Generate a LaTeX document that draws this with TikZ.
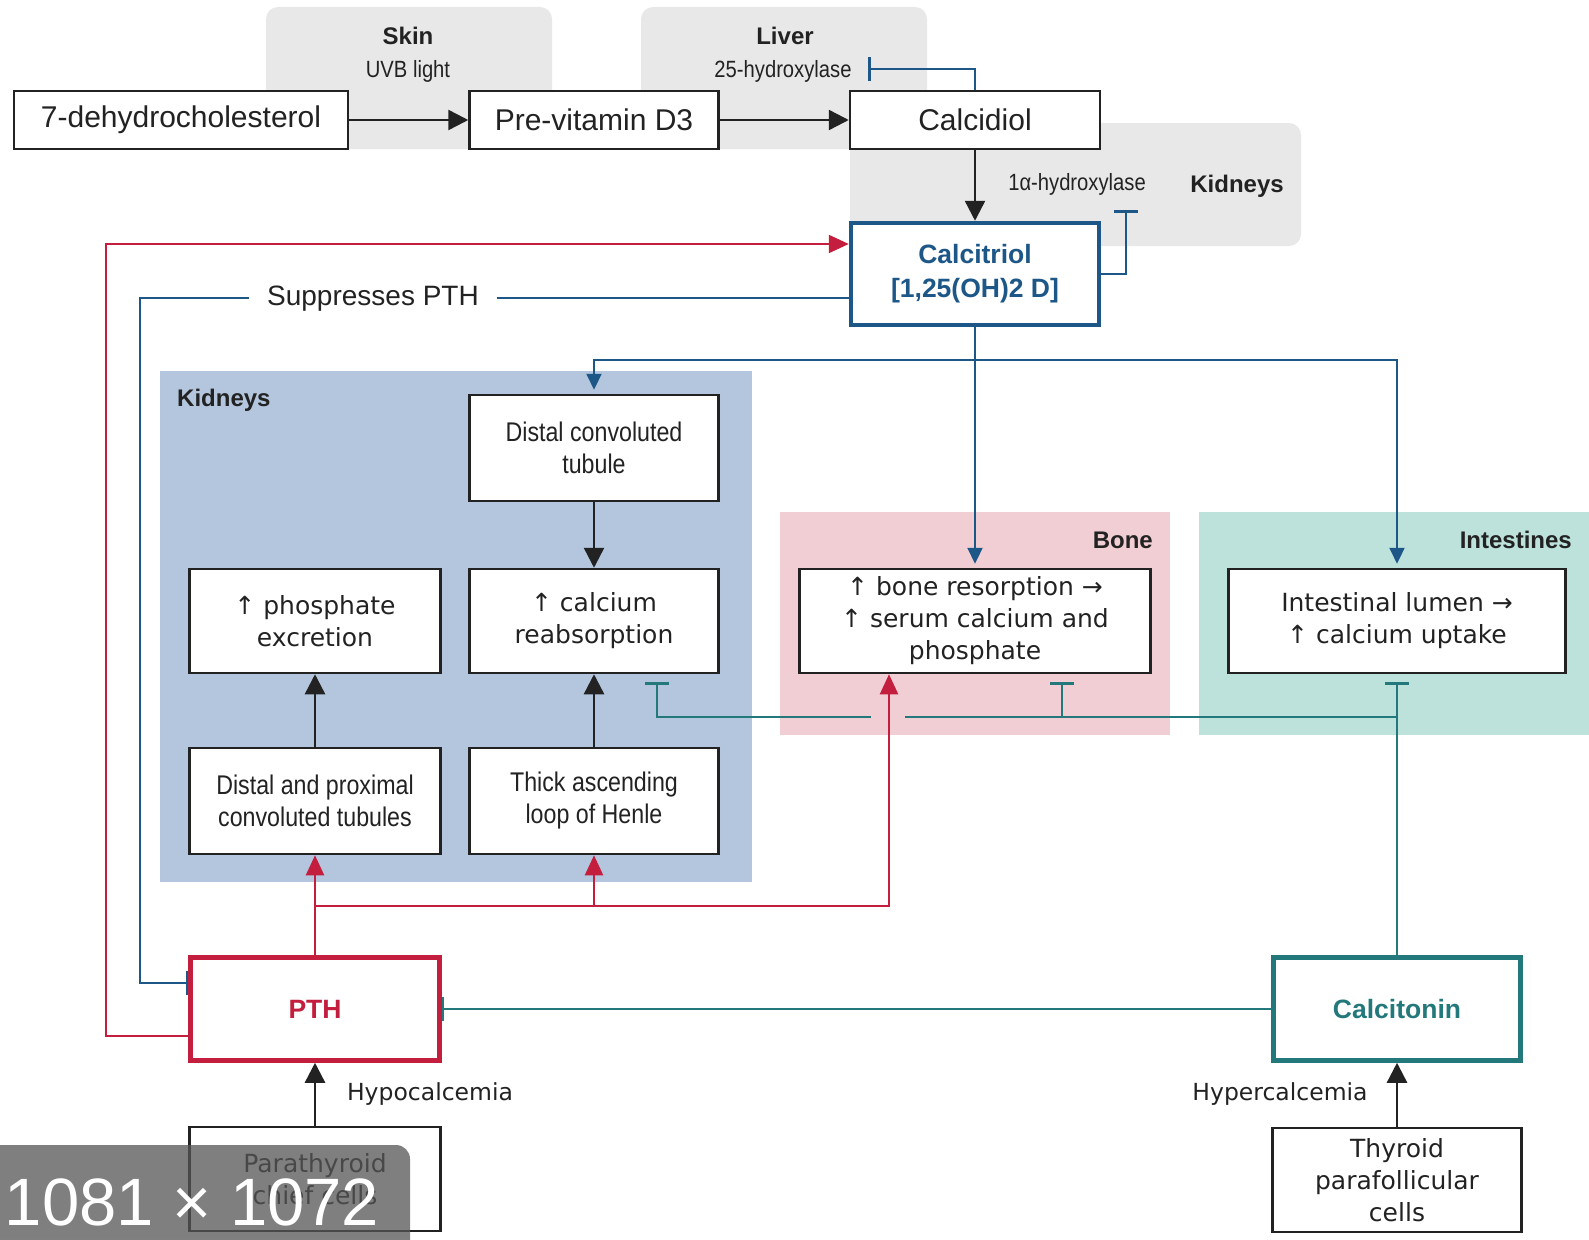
\documentclass[tikz,border=0pt]{standalone}
\usepackage{fontspec}
\setmainfont{DejaVu Sans}
\newfontfamily\nar[FakeStretch=0.86]{Liberation Sans}
\newfontfamily\lib{Liberation Sans}
\usetikzlibrary{arrows.meta}
\definecolor{cred}{HTML}{C41E3E}
\definecolor{cblue}{HTML}{1D5788}
\definecolor{cteal}{HTML}{22787A}
\definecolor{bgblue}{HTML}{B3C6DD}
\definecolor{bgpink}{HTML}{F1CDD4}
\definecolor{bgteal}{HTML}{BCE2DB}
\definecolor{bggray}{HTML}{E8E8E8}
\definecolor{txt}{HTML}{222222}
\definecolor{ovl}{HTML}{555555}
\begin{document}
\begin{tikzpicture}[x=1pt,y=-1pt,
  box/.style={draw=txt, line width=2.5pt, fill=white, inner sep=0pt, align=center, text=txt},
  body/.style={font=\fontsize{25}{32}\selectfont},
  nbody/.style={font=\nar\fontsize{27}{32}\selectfont},
  lbody/.style={font=\lib\fontsize{30}{34}\selectfont},
  keybox/.style={box, line width=4.5pt, font=\lib\bfseries\fontsize{26.5}{34}\selectfont},
  lbl/.style={font=\lib\bfseries\fontsize{24}{28}\selectfont, text=txt, inner sep=0pt},
  nlbl/.style={font=\nar\fontsize{23.5}{28}\selectfont, text=txt, inner sep=0pt},
  plbl/.style={font=\fontsize{23.5}{28}\selectfont, text=txt, inner sep=0pt},
  arr/.style={line width=2.5pt, draw=txt, -{Triangle[length=20pt,width=20pt]}},
  barr/.style={line width=2.2pt, draw=cblue, -{Triangle[length=16pt,width=15pt]}},
  rarr/.style={line width=2.2pt, draw=cred, -{Triangle[length=20pt,width=18pt]}},
  bline/.style={line width=2.2pt, draw=cblue},
  rline/.style={line width=2.2pt, draw=cred},
  tline/.style={line width=2.2pt, draw=cteal},
  inh/.style={-{Bar[width=24pt,line width=2.5pt]}}
]
\useasboundingbox (0,0) rectangle (1589,1239);
\fill[white] (0,0) rectangle (1589,1239);
% backgrounds
\fill[bggray, rounded corners=12pt] (266,7) rectangle (552,149);
\fill[bggray, rounded corners=12pt] (641,7) rectangle (927,149);
\fill[bggray, rounded corners=12pt] (850,123) rectangle (1301,246);
\fill[bgblue] (160,371) rectangle (752,882);
\fill[bgpink] (780,512) rectangle (1170,735);
\fill[bgteal] (1199,512) rectangle (1589,735);

% labels
\node[lbl] (skinlbl) at (408,36) {Skin};
\node[nlbl] (uvb) at (408,71) {UVB light};
\node[lbl] (liverlbl) at (785,36) {Liver};
\node[nlbl] (hyd25) at (783,71) {25-hydroxylase};
\node[nlbl] (hyd1) at (1077,184) {1α-hydroxylase};
\node[lbl] (kidlbl1) at (1237,186) {Kidneys};
\node[lbl, anchor=west] (kidlbl2) at (177,400) {Kidneys};
\node[lbl, anchor=east] (bonelbl) at (1153,540) {Bone};
\node[lbl, anchor=east] (intlbl) at (1572,540) {Intestines};

% boxes
\node[box, lbody, minimum width=334, minimum height=58] (dhc) at (181,120) {7-dehydrocholesterol};
\node[box, lbody, minimum width=249, minimum height=58] (prev) at (594,120) {Pre-vitamin D3};
\node[box, lbody, minimum width=250, minimum height=58] (calcidiol) at (975,120) {Calcidiol};
\node[keybox, draw=cblue, text=cblue, minimum width=248, minimum height=102] (calcitriol) at (975,274) {Calcitriol\\{}[1,25(OH)2 D]};
\node[box, nbody, minimum width=249, minimum height=106] (dct) at (594,448) {Distal convoluted\\tubule};
\node[box, body, minimum width=251, minimum height=104] (phos) at (315,621) {↑ phosphate\\excretion};
\node[box, body, minimum width=249, minimum height=104] (ca) at (594,621) {↑ calcium\\reabsorption};
\node[box, nbody, minimum width=251, minimum height=106] (dpct) at (315,801) {Distal and proximal\\convoluted tubules};
\node[box, nbody, minimum width=249, minimum height=106] (tal) at (594,801) {Thick ascending\\loop of Henle};
\node[box, body, minimum width=351, minimum height=104] (bone) at (975,621) {↑ bone resorption →\\↑ serum calcium and\\phosphate};
\node[box, body, minimum width=337, minimum height=104] (intest) at (1397,621) {Intestinal lumen →\\↑ calcium uptake};
\node[keybox, draw=cred, text=cred, minimum width=249, minimum height=103] (pth) at (315,1009) {PTH};
\node[keybox, draw=cteal, text=cteal, minimum width=247, minimum height=103] (calcitonin) at (1397,1009) {Calcitonin};
\node[box, body, minimum width=251, minimum height=104] (para) at (315,1179) {Parathyroid\\chief cells};
\node[box, body, minimum width=249, minimum height=104] (thyroid) at (1397,1180) {Thyroid\\parafollicular\\cells};
\node[plbl] (hypo) at (430,1094) {Hypocalcemia};
\node[plbl] (hyper) at (1280,1094) {Hypercalcemia};

% top chain
\draw[arr] (dhc) -- (prev);
\draw[arr] (prev) -- (calcidiol);
\draw[arr] (calcidiol) -- (calcitriol);
\coordinate (lvbar) at (868,69);
\draw[bline, inh] (calcidiol.north) |- (lvbar);
\coordinate (kbar) at (1126,210);
\draw[bline, inh] (calcitriol.east) -| (kbar);

% calcitriol outputs
\coordinate (bj) at (975,360);
\draw[barr] (calcitriol.south) -- ([yshift=4pt]bone.north);
\draw[barr] (bj) -| ([yshift=4pt]dct.north);
\draw[barr] (bj) -| ([yshift=4pt]intest.north);

% kidney internal
\draw[arr] (dct) -- (ca);
\draw[arr] (tal) -- (ca);
\draw[arr] (dpct) -- (phos);

% red PTH
\draw[rarr] ([yshift=-27pt]pth.west) -- ++(-82,0) |- ([yshift=30pt]calcitriol.west);
\draw[rarr] (pth) -- (dpct);
\coordinate (rj) at (315,906);
\draw[rarr] (rj) -| ([xshift=-86pt]bone.south);
\draw[rarr] (tal.south |- rj) -- (tal.south);

% suppresses PTH
\draw[bline, inh] ([yshift=-24pt]calcitriol.west) -- (140,298) |- ([yshift=26pt]pth.west);
\node[fill=white, inner xsep=18pt, inner ysep=2pt, font=\lib\fontsize{28}{32}\selectfont, text=txt] (supp) at (373,299) {Suppresses PTH};

% teal calcitonin
\draw[tline, inh] (calcitonin) -- (pth);
\draw[tline, inh, shorten >=8pt] (calcitonin) -- (intest);
\coordinate (tj) at (1397,717);
\coordinate (tg1) at (905,717);
\coordinate (tg2) at (871,717);
\draw[tline, inh, shorten >=8pt] (tj) -| ([xshift=87pt]bone.south);
\draw[tline] (tj) -- (tg1);
\draw[tline, inh, shorten >=8pt] (tg2) -| ([xshift=63pt]ca.south);

% source arrows
\draw[arr] (para) -- (pth);
\draw[arr] (thyroid) -- (calcitonin);

% overlay
\fill[ovl, opacity=0.75, rounded corners=14pt] (-20,1145) rectangle (410,1260);
\node[text=white, font=\lib\fontsize{67}{72}\selectfont, inner sep=0pt] (ovltext) at (192,1202) {1081 × 1072};
\end{tikzpicture}
\end{document}
